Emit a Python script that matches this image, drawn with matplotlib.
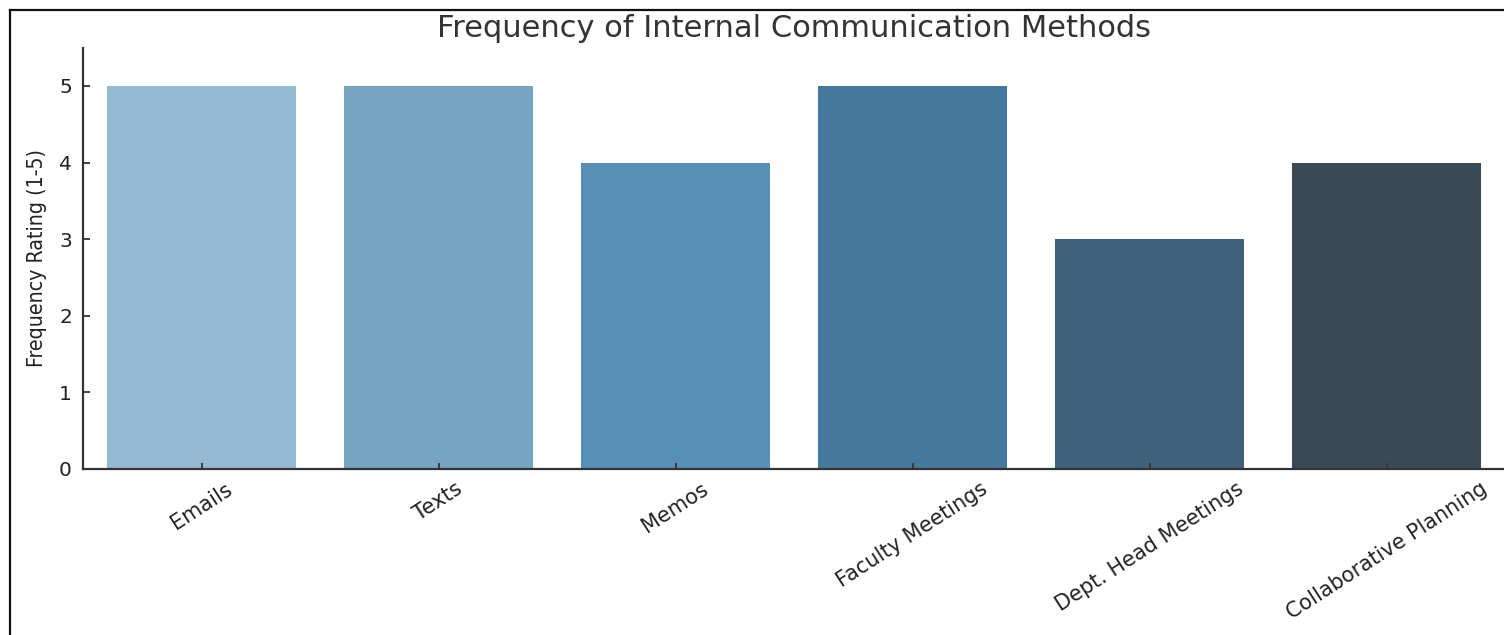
import matplotlib
matplotlib.use("Agg")
import matplotlib.pyplot as plt
from matplotlib.lines import Line2D
import seaborn as sns

# Survey results: how often each internal communication channel is used
methods = ["Emails", "Texts", "Memos", "Faculty Meetings",
           "Dept. Head Meetings", "Collaborative Planning"]
ratings = [5, 5, 4, 5, 3, 4]
y_ticks = [0, 1, 2, 3, 4, 5]

# Blues_d palette, muted the way seaborn bar plots render it
palette = [sns.desaturate(c, 0.75) for c in sns.color_palette("Blues_d", len(methods))]

fig = plt.figure(figsize=(15.04, 6.35), dpi=100)
W, H = 1504, 635

# panel frame along the left and top edges
fig.add_artist(Line2D([9.5 / W, 9.5 / W], [0, 1 - 9.5 / H], color="#111111", lw=1.6))
fig.add_artist(Line2D([9.5 / W, 1], [1 - 9.5 / H, 1 - 9.5 / H], color="#111111", lw=1.6))

ax = fig.add_axes([83 / W, 1 - 469 / H, 1422 / W, (469 - 47.7) / H])
x = list(range(len(methods)))
ax.bar(x, ratings, width=0.8, color=palette, edgecolor="none")

ax.set_xlim(-0.5, len(methods) - 0.5)
ax.set_ylim(0, 5.5)
ax.set_yticks(y_ticks)
ax.set_xticks(x)

ax.set_xticklabels(methods, rotation=33, ha="center", fontsize=15, color="#222222")
ax.set_yticklabels([str(v) for v in y_ticks], fontsize=14.5, color="#222222")

ax.tick_params(axis="x", direction="in", length=4, width=1.3, color="#333333", pad=7)
ax.tick_params(axis="y", direction="in", length=5, width=1.3, color="#333333", pad=8)

for side in ("top", "right"):
    ax.spines[side].set_visible(False)
for side in ("left", "bottom"):
    ax.spines[side].set_color("#333333")
    ax.spines[side].set_linewidth(1.6)

ax.set_ylabel("Frequency Rating (1-5)", fontsize=15.3, color="#222222",
              family="DejaVu Sans", fontstretch="condensed", labelpad=9)
ax.set_title("Frequency of Internal Communication Methods", fontsize=22,
             color="#333333", pad=8)

fig.savefig("out.png", dpi=100)
